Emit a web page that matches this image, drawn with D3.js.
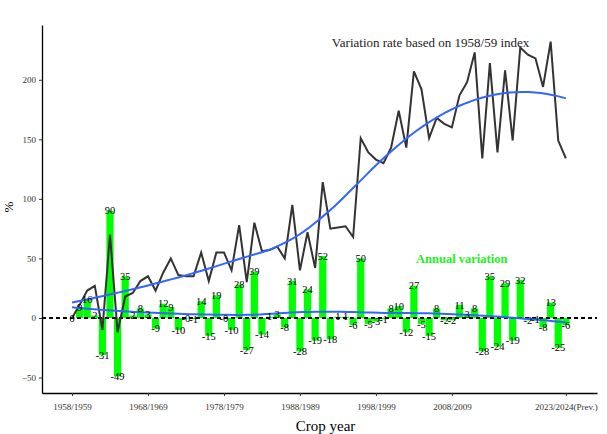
<!DOCTYPE html>
<html>
<head>
<meta charset="utf-8">
<script src="https://cdn.jsdelivr.net/npm/d3@7"></script>
<style>
  body { margin: 0; background: #fff; }
  text { font-family: "Liberation Serif", "Times New Roman", serif; }
</style>
</head>
<body>
<div id="chart"></div>
<script>
// crop years (start year of each season)
var startYears = [1958,1959,1960,1961,1962,1963,1964,1965,1966,1967,
  1968,1969,1970,1971,1972,1973,1974,1975,1976,1977,
  1978,1979,1980,1981,1982,1983,1984,1985,1986,1987,
  1988,1989,1990,1991,1992,1993,1994,1995,1996,1997,
  1998,1999,2000,2001,2002,2003,2004,2005,2006,2007,
  2008,2009,2010,2011,2012,2013,2014,2015,2016,2017,
  2018,2019,2020,2021,2022,2023];

// annual variation (%), bars
var annualVar = [0,9,16,2,-31,90,-49,35,2,8,
  3,-9,12,9,-10,-0.3,-1,14,-15,19,
  -0.3,-10,28,-27,39,-14,1,3,-8,31,
  -28,24,-19,52,-18,1,1,-6,50,-5,
  -3,-1,8,10,-12,27,-5,-15,8,-2,
  -2,11,3,8,-28,35,-24,29,-19,32,
  -2,-1,-8,13,-25,-6];

// variation rate based on 1958/59 index (%), black line
var indexRate = [0,11,23,27,-10,70,-12,18,21,31,
  35,23,38,50,36,35,35,55,31,55,
  55,40,78,30,80,56,57,60,50,95,
  40,72,42,114,75,76,77,68,151,139,
  133,130,143,174,143,207,192,151,168,163,
  160,187,198,223,134,214,139,208,149,227,
  221,218,194,232,149,134];

var tickYears = [1958,1968,1978,1988,1998,2008,2023];
var tickLabels = ["1958/1959","1968/1969","1978/1979","1988/1989","1998/1999","2008/2009","2023/2024(Prev.)"];
var yTicks = [-50,0,50,100,150,200];

var margin = {top: 25, right: 10, bottom: 41, left: 42},
    width = 607 - margin.left - margin.right,
    height = 434 - margin.top - margin.bottom;

var svg = d3.select("#chart")
  .append("svg")
    .attr("width", width + margin.left + margin.right)
    .attr("height", height + margin.top + margin.bottom)
  .append("g")
    .attr("transform", `translate(${margin.left},${margin.top})`);

var x = d3.scaleLinear()
  .domain([1958 - 3.95, 1958 + 69.1])
  .range([0, width]);

var y = d3.scaleLinear()
  .domain([-63, 246])
  .range([height, 0]);

var step = x(1959) - x(1958);
var barW = step * 0.95;

// loess smoother (degree 2, tricube), like geom_smooth
function loess(xs, ys, span, nOut) {
  var n = xs.length, q = Math.ceil(span * n);
  var out = [];
  var x0s = d3.range(nOut).map(k => xs[0] + (xs[n-1] - xs[0]) * k / (nOut - 1));
  x0s.forEach(function(x0) {
    var d = xs.map(v => Math.abs(v - x0));
    var h = d.slice().sort((a, b) => a - b)[q - 1];
    var S = [[0,0,0],[0,0,0],[0,0,0]], B = [0,0,0];
    for (var i = 0; i < n; i++) {
      var u = d[i] / h;
      if (u >= 1) continue;
      var w = Math.pow(1 - u*u*u, 3);
      var t = xs[i] - x0, p = [1, t, t*t];
      for (var r = 0; r < 3; r++) {
        B[r] += w * p[r] * ys[i];
        for (var c = 0; c < 3; c++) S[r][c] += w * p[r] * p[c];
      }
    }
    // solve 3x3 with gaussian elimination
    var M = S.map((row, r) => row.concat([B[r]]));
    for (var col = 0; col < 3; col++) {
      var piv = col;
      for (var r2 = col+1; r2 < 3; r2++) if (Math.abs(M[r2][col]) > Math.abs(M[piv][col])) piv = r2;
      var tmp = M[col]; M[col] = M[piv]; M[piv] = tmp;
      for (var r3 = 0; r3 < 3; r3++) {
        if (r3 == col) continue;
        var f = M[r3][col] / M[col][col];
        for (var c2 = col; c2 < 4; c2++) M[r3][c2] -= f * M[col][c2];
      }
    }
    out.push([x0, M[0][3] / M[0][0]]);
  });
  return out;
}

// bars
svg.append("g")
  .selectAll("rect")
  .data(annualVar)
  .join("rect")
    .attr("x", (d, i) => x(startYears[i]) - barW / 2)
    .attr("y", d => y(Math.max(0, d)))
    .attr("width", barW)
    .attr("height", d => Math.abs(y(d) - y(0)))
    .attr("fill", "#00ff00");

// zero line
svg.append("line")
  .attr("x1", 0).attr("x2", width)
  .attr("y1", y(0)).attr("y2", y(0))
  .attr("stroke", "#000")
  .attr("stroke-width", 2)
  .attr("stroke-dasharray", "4,3");

// index line
var line = d3.line()
  .x((d, i) => x(startYears[i]))
  .y(d => y(d));

svg.append("path")
  .datum(indexRate)
  .attr("fill", "none")
  .attr("stroke", "#333")
  .attr("stroke-width", 2)
  .attr("stroke-linejoin", "miter")
  .attr("d", line);

// smoothers
var smoothLine = d3.line().x(d => x(d[0])).y(d => y(d[1]));
[indexRate, annualVar].forEach(function(series) {
  svg.append("path")
    .datum(loess(startYears, series, 0.75, 80))
    .attr("fill", "none")
    .attr("stroke", "#3366ff")
    .attr("stroke-width", 2)
    .attr("d", smoothLine);
});

// bar labels
svg.append("g")
  .selectAll("text")
  .data(annualVar)
  .join("text")
    .attr("x", (d, i) => x(startYears[i]))
    .attr("y", d => y(d))
    .attr("dy", "0.35em")
    .attr("text-anchor", "middle")
    .attr("font-size", "10.5px")
    .attr("fill", "#000")
    .text(d => d.toFixed(0));

// annotations
svg.append("text")
  .attr("x", x(2005.2))
  .attr("y", y(231))
  .attr("dy", "0.35em")
  .attr("text-anchor", "middle")
  .attr("font-size", "13px")
  .attr("fill", "#222")
  .text("Variation rate based on 1958/59 index");

svg.append("text")
  .attr("x", x(2009.3))
  .attr("y", y(50))
  .attr("dy", "0.35em")
  .attr("text-anchor", "middle")
  .attr("font-size", "12.5px")
  .attr("font-weight", "bold")
  .attr("fill", "#22f022")
  .text("Annual variation");

// axes
var xAxis = svg.append("g")
  .attr("transform", `translate(0,${height})`)
  .call(d3.axisBottom(x).tickValues(tickYears).tickSize(3).tickSizeOuter(0)
    .tickFormat((d, i) => tickLabels[i]));

var yAxis = svg.append("g")
  .call(d3.axisLeft(y).tickValues(yTicks).tickSize(3).tickSizeOuter(0));

[xAxis, yAxis].forEach(function(a) {
  a.select(".domain").attr("stroke", "#000").attr("stroke-width", 1.3);
  a.selectAll(".tick line").attr("stroke", "#333");
  a.selectAll(".tick text")
    .attr("font-family", "Liberation Serif, serif")
    .attr("font-size", "9px")
    .attr("fill", "#333");
});
xAxis.selectAll(".tick text").attr("dy", "1.2em");

// axis titles
svg.append("text")
  .attr("x", width / 2 + 6)
  .attr("y", height + 38)
  .attr("text-anchor", "middle")
  .attr("font-size", "15px")
  .attr("fill", "#000")
  .text("Crop year");

svg.append("text")
  .attr("transform", `translate(${-margin.left + 13},${height / 2 - 2}) rotate(-90)`)
  .attr("text-anchor", "middle")
  .attr("font-size", "13px")
  .attr("fill", "#000")
  .text("%");
</script>
</body>
</html>
